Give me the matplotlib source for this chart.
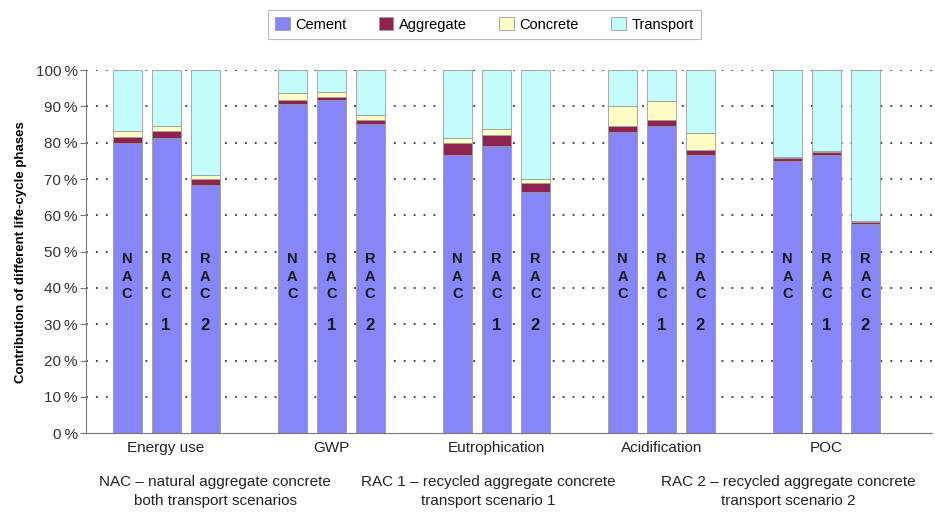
import matplotlib.pyplot as plt
import numpy as np
from matplotlib.patches import Patch

plt.rcParams['font.family'] = ['Liberation Sans', 'DejaVu Sans']

categories = ["Energy use", "GWP", "Eutrophication", "Acidification", "POC"]
variants = ["NAC", "RAC 1", "RAC 2"]
phases = ["Cement", "Aggregate", "Concrete", "Transport"]

# share of each phase in %, rows = category, cols = NAC / RAC 1 / RAC 2
cement = np.array([
    [79.8, 81.3, 68.3],
    [90.8, 91.7, 85.3],
    [76.6, 79.0, 66.4],
    [83.0, 84.5, 76.7],
    [75.0, 76.6, 57.7],
])
aggregate = np.array([
    [1.9, 2.0, 1.6],
    [0.9, 0.9, 1.0],
    [3.2, 3.2, 2.5],
    [1.6, 1.7, 1.2],
    [0.9, 0.9, 0.5],
])
concrete = np.array([
    [1.5, 1.3, 1.2],
    [2.0, 1.4, 1.4],
    [1.5, 1.5, 1.1],
    [5.4, 5.2, 4.8],
    [0.2, 0.1, 0.2],
])
transport = 100 - cement - aggregate - concrete

colors = ["#8686f8", "#8e2350", "#fffcc4", "#c4fcfc"]
bar_labels = ["N\nA\nC", "R\nA\nC", "R\nA\nC"]
bar_numbers = ["", "1", "2"]

fig = plt.figure(figsize=(9.35, 5.12), dpi=100)
ax = fig.add_axes([0.092, 0.154, 0.905, 0.709])

offsets = np.array([-0.236, 0.0, 0.236])
width = 0.176
x = np.arange(len(categories))

for j in range(len(variants)):
    xs = x + offsets[j]
    bottom = np.zeros(len(categories))
    for vals, c in zip([cement, aggregate, concrete, transport], colors):
        ax.bar(xs, vals[:, j], width, bottom=bottom, color=c,
               edgecolor="#9a9a9a", linewidth=0.6, zorder=3)
        bottom += vals[:, j]
    for xi in xs:
        ax.text(xi, 49.8, bar_labels[j], ha="center", va="top", fontsize=10.5,
                fontweight="bold", linespacing=1.3, color="#1a1a1a", zorder=4)
        if bar_numbers[j]:
            ax.text(xi, 29.6, bar_numbers[j], ha="center", va="center",
                    fontsize=12, fontweight="bold", color="#1a1a1a", zorder=4)

ax.set_xlim(-0.485, 4.64)
ax.set_ylim(0, 100)
ax.set_yticks(np.arange(0, 101, 10))
ax.set_yticklabels([f"{v}\u2009%" for v in range(0, 101, 10)], fontsize=11, color="#333333")
ax.set_xticks(x)
ax.set_xticklabels(categories, fontsize=11, color="#222222")
ax.tick_params(axis="x", length=0, pad=6)
ax.tick_params(axis="y", direction="out", length=4, width=0.8, color="#777777", pad=2)

for v in range(10, 101, 10):
    ax.axhline(v, color="#333333", linestyle=(0, (1, 4.5)), linewidth=1.3, zorder=1)

for side in ["top", "right"]:
    ax.spines[side].set_visible(False)
ax.spines["left"].set_color("#777777")
ax.spines["bottom"].set_color("#777777")

ax.set_ylabel("Contribution of different life-cycle phases", fontsize=9.5,
              fontweight="bold", labelpad=6)

handles = [Patch(facecolor=c, edgecolor="#9a9a9a", linewidth=0.6) for c in colors]
leg = fig.legend(handles, phases, loc="upper center", bbox_to_anchor=(0.518, 0.995),
                 ncol=4, fontsize=10.5, frameon=True, fancybox=False,
                 handlelength=1.0, handleheight=1.0, handletextpad=0.4,
                 columnspacing=2.2, borderpad=0.5)
leg.get_frame().set_edgecolor("#aaaaaa")
leg.get_frame().set_linewidth(0.8)

notes = [
    (0.230, "NAC \u2013 natural aggregate concrete\nboth transport scenarios"),
    (0.522, "RAC 1 \u2013 recycled aggregate concrete\ntransport scenario 1"),
    (0.843, "RAC 2 \u2013 recycled aggregate concrete\ntransport scenario 2"),
]
for xf, txt in notes:
    fig.text(xf, 0.040, txt, ha="center", va="center", fontsize=11,
             linespacing=1.4, color="#222222")

fig.savefig("out.png", dpi=100)
